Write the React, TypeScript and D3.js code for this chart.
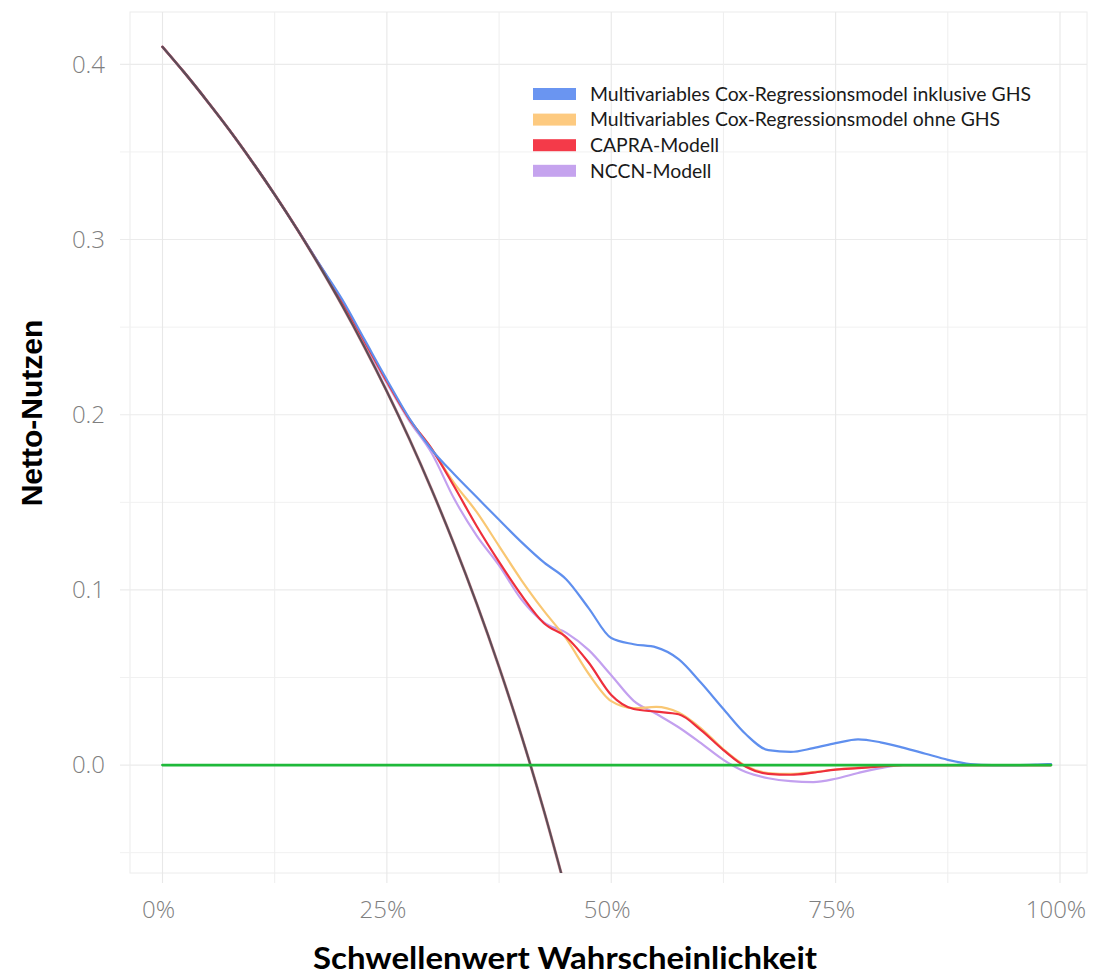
import React from "react";
import * as d3 from "d3";

// ---------- data ----------
const thresholds = [
  0, 0.025, 0.05, 0.075, 0.1, 0.125, 0.15, 0.175, 0.2, 0.225, 0.25, 0.275, 0.3,
  0.325, 0.35, 0.375, 0.4, 0.425, 0.45, 0.475, 0.5, 0.525, 0.55, 0.575, 0.6,
  0.625, 0.65, 0.675, 0.7, 0.725, 0.75, 0.775, 0.8, 0.825, 0.85, 0.875, 0.9,
  0.925, 0.95, 0.975, 0.99,
];

const coxWithGhs = [
  0.41, 0.3949, 0.3789, 0.3622, 0.3444, 0.3257, 0.306, 0.2858, 0.266, 0.243,
  0.22, 0.198, 0.18, 0.166, 0.153, 0.14, 0.1273, 0.1157, 0.106, 0.0895,
  0.0725, 0.069, 0.0672, 0.0605, 0.047, 0.032, 0.0176, 0.0085, 0.0075, 0.0097,
  0.0125, 0.0147, 0.013, 0.01, 0.0065, 0.003, 0.0006, 0.0, 0.0, 0.0003, 0.0006,
];

const coxWithoutGhs = [
  0.41, 0.3949, 0.3789, 0.3622, 0.3444, 0.3257, 0.306, 0.2855, 0.265, 0.242,
  0.219, 0.1975, 0.1805, 0.161, 0.1445, 0.125, 0.1055, 0.088, 0.072, 0.052,
  0.0365, 0.0325, 0.0332, 0.03, 0.021, 0.009, -0.0005, -0.0045, -0.005, -0.004,
  -0.0025, -0.0015, -0.0007, 0, 0, 0, 0, 0, 0, 0, 0,
];

const capra = [
  0.41, 0.3949, 0.3789, 0.3622, 0.3444, 0.3257, 0.306, 0.2855, 0.265, 0.242,
  0.219, 0.1975, 0.1805, 0.159, 0.1365, 0.116, 0.097, 0.081, 0.073, 0.0584,
  0.04, 0.032, 0.0305, 0.029, 0.02, 0.0086, -0.001, -0.005, -0.0055, -0.0043,
  -0.0026, -0.0017, -0.0008, 0, 0, 0, 0, 0, 0, 0, 0,
];

const nccn = [
  0.41, 0.3949, 0.3789, 0.3622, 0.3444, 0.3257, 0.306, 0.2852, 0.264, 0.241,
  0.218, 0.1965, 0.178, 0.152, 0.131, 0.114, 0.0945, 0.0815, 0.0755, 0.0656,
  0.0513, 0.0367, 0.0293, 0.0216, 0.0125, 0.003, -0.004, -0.0075, -0.0092,
  -0.0097, -0.0078, -0.0045, -0.0017, 0, 0, 0, 0, 0, 0, 0, 0,
];

// "treat all" reference curve, values at thresholds[0..18]
const treatAll = [
  0.41, 0.3949, 0.3789, 0.3622, 0.3444, 0.3257, 0.3059, 0.2848, 0.2625, 0.2387,
  0.2133, 0.1862, 0.1571, 0.1259, 0.0923, 0.056, 0.0167, -0.0261, -0.0727,
];

// "treat none" reference line
const treatNone = [0, 0];
const treatNoneThresholds = [0, 0.99];

const seriesNames = [
  "Multivariables Cox-Regressionsmodel inklusive GHS",
  "Multivariables Cox-Regressionsmodel ohne GHS",
  "CAPRA-Modell",
  "NCCN-Modell",
];
const seriesValues = [coxWithGhs, coxWithoutGhs, capra, nccn];
const lineColors = ["#5f8fee", "#f9c773", "#ee2f3c", "#c3a0ef"];
const swatchColors = ["#6a95f1", "#fdca80", "#f43a49", "#c5a3ee"];
const drawOrder = [3, 1, 2, 0];

const xTicks = [0, 0.25, 0.5, 0.75, 1];
const xMinor = [0.125, 0.375, 0.625, 0.875];
const yTicks = [0, 0.1, 0.2, 0.3, 0.4];
const yMinor = [-0.05, 0.05, 0.15, 0.25, 0.35];

const xTitle = "Schwellenwert Wahrscheinlichkeit";
const yTitle = "Netto-Nutzen";

// ---------- layout ----------
const W = 1096;
const H = 974;
const panel = { left: 130, right: 1087, top: 12, bottom: 873 };

export default function App() {
  const x = d3.scaleLinear().domain([0, 1]).range([162.5, 1060]);
  const y = d3.scaleLinear().domain([-0.0616, 0.4299]).range([panel.bottom, panel.top]);

  const line = (xs: number[], ys: number[]) =>
    d3
      .line<number>()
      .x((_, i) => x(xs[i]))
      .y((v) => y(v))
      .curve(d3.curveMonotoneX)(ys) || "";

  const tickFont = "'Open Sans', 'DejaVu Sans', sans-serif";
  const legendFont = "Lato, 'Open Sans', sans-serif";

  return (
    <svg
      width={W}
      height={H}
      viewBox={`0 0 ${W} ${H}`}
      style={{ position: "absolute", left: 0, top: 0, display: "block", background: "#fff" }}
    >
      <defs>
        <clipPath id="panelClip">
          <rect
            x={panel.left}
            y={panel.top}
            width={panel.right - panel.left}
            height={panel.bottom - panel.top}
          />
        </clipPath>
      </defs>
      <rect x={0} y={0} width={W} height={H} fill="#fff" />

      {/* panel border */}
      <rect
        x={panel.left}
        y={panel.top}
        width={panel.right - panel.left}
        height={panel.bottom - panel.top}
        fill="none"
        stroke="#ececec"
        strokeWidth={1}
      />

      {/* gridlines */}
      {yMinor.map((v) => (
        <line key={"ym" + v} x1={120} x2={panel.right} y1={y(v)} y2={y(v)} stroke="#f1f1f1" strokeWidth={1} />
      ))}
      {yTicks.map((v) => (
        <line key={"y" + v} x1={120} x2={panel.right} y1={y(v)} y2={y(v)} stroke="#ebebeb" strokeWidth={1.1} />
      ))}
      {xMinor.map((v) => (
        <line key={"xm" + v} x1={x(v)} x2={x(v)} y1={panel.top} y2={883} stroke="#eeeeee" strokeWidth={1} />
      ))}
      {xTicks.map((v) => (
        <line key={"x" + v} x1={x(v)} x2={x(v)} y1={panel.top} y2={883} stroke="#e8e8e8" strokeWidth={1.1} />
      ))}

      {/* curves */}
      <g clipPath="url(#panelClip)" fill="none" strokeLinejoin="round" strokeLinecap="round">
        {drawOrder.map((i) => (
          <path key={"s" + i} d={line(thresholds, seriesValues[i])} stroke={lineColors[i]} strokeWidth={2.2} />
        ))}
        <path d={line(thresholds, treatAll)} stroke="#c0404c" strokeWidth={3} opacity={0.5} />
        <path d={line(thresholds, treatAll)} stroke="#5e4c56" strokeWidth={2.2} />
        <path d={line(treatNoneThresholds, treatNone)} stroke="#1fb93a" strokeWidth={2.8} />
      </g>

      {/* y tick labels */}
      {yTicks.map((v) => (
        <text
          key={"yl" + v}
          x={105}
          y={y(v)}
          dy="0.35em"
          textAnchor="end"
          fontFamily={tickFont}
          fontWeight={300}
          fontSize={24}
          fill="#7f7f7f"
        >
          {d3.format(".1f")(v)}
        </text>
      ))}

      {/* x tick labels */}
      {xTicks.map((v) => (
        <text
          key={"xl" + v}
          x={x(v) - 4}
          y={910}
          dy="0.35em"
          textAnchor="middle"
          fontFamily={tickFont}
          fontWeight={300}
          fontSize={24}
          fill="#7f7f7f"
        >
          {d3.format(".0%")(v)}
        </text>
      ))}

      {/* axis titles */}
      <text
        x={565}
        y={958}
        dy="0.35em"
        textAnchor="middle"
        fontFamily="Lato, 'Open Sans', sans-serif"
        fontWeight={700}
        fontSize={30}
        fill="#000"
        textLength={504}
        lengthAdjust="spacingAndGlyphs"
      >
        {xTitle}
      </text>
      <text
        transform={`translate(31,413) rotate(-90)`}
        dy="0.35em"
        textAnchor="middle"
        fontFamily="'Liberation Sans', Arial, sans-serif"
        fontWeight={700}
        fontSize={30}
        fill="#000"
      >
        {yTitle}
      </text>

      {/* legend */}
      {seriesNames.map((name, i) => {
        const cy = 94 + i * 25.6;
        return (
          <g key={"lg" + i}>
            <rect x={533} y={cy - 6} width={43} height={12} fill={swatchColors[i]} />
            <text
              x={590}
              y={cy}
              dy="0.35em"
              fontFamily={legendFont}
              fontSize={19.4}
              fill="#1a1a1a"
            >
              {name}
            </text>
          </g>
        );
      })}
    </svg>
  );
}
